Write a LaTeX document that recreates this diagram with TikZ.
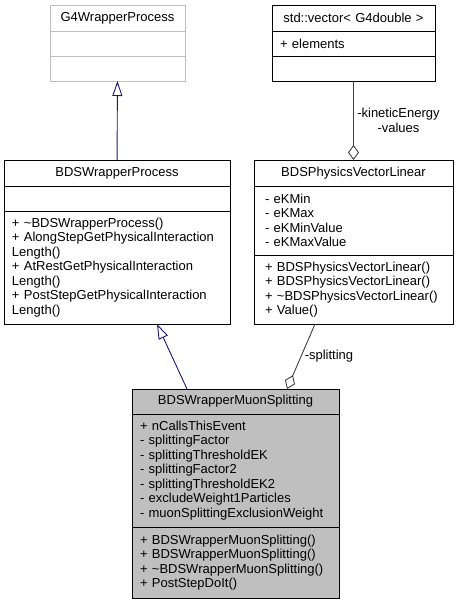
\documentclass[tikz,border=0pt]{standalone}
\usepackage{fontspec}
\setmainfont{Liberation Sans}
\usetikzlibrary{arrows.meta}
\definecolor{edgeblue}{HTML}{191970}
\definecolor{edgegrey}{HTML}{404040}
\definecolor{boxgrey}{HTML}{BFBFBF}

\begin{document}
\begin{tikzpicture}[x=1pt, y=-1pt, cell/.style={draw, rectangle, anchor=north west, inner xsep=8pt, inner ysep=0pt, outer sep=0pt, line width=0.8pt, align=left}, head/.style={cell, align=center}]
\tikzset{every node/.append style={font=\fontsize{13}{14.5}\selectfont},
  inherit/.style={draw=edgeblue, line width=0.9pt, -{Triangle[open, length=15pt, width=10pt]}},
  aggr/.style={draw=edgegrey, line width=0.9pt, -{Diamond[open, length=15pt, width=11pt]}}}
\useasboundingbox (0,0) rectangle (459,603);

\node[head, draw=boxgrey, text width=119pt, minimum height=26pt] (0) at (50,5) {G4WrapperProcess};
\node[cell, draw=boxgrey, text width=119pt, minimum height=25pt] (0a) at (50,31) {};
\node[cell, draw=boxgrey, text width=119pt, minimum height=25pt] (0o) at (50,56) {};

\node[head, text width=147pt, minimum height=26pt] (1) at (272,5) {std::vector< G4double >};
\node[cell, text width=147pt, minimum height=25pt] (1a) at (272,31) {+ elements};
\node[cell, text width=147pt, minimum height=25pt] (1o) at (272,56) {};

\node[head, text width=210pt, minimum height=26pt] (2) at (4,160) {BDSWrapperProcess};
\node[cell, text width=210pt, minimum height=25pt] (2a) at (4,186) {};
\node[cell, text width=210pt, minimum height=113pt] (2o) at (4,211) {+ \textasciitilde BDSWrapperProcess()\\+ AlongStepGetPhysicalInteraction\\Length()\\+ AtRestGetPhysicalInteraction\\Length()\\+ PostStepGetPhysicalInteraction\\Length()};

\node[head, text width=183pt, minimum height=26pt] (3) at (254,160) {BDSPhysicsVectorLinear};
\node[cell, inner xsep=11pt, text width=177pt, minimum height=69pt] (3a) at (254,186) {- eKMin\\- eKMax\\- eKMinValue\\- eKMaxValue};
\node[cell, inner xsep=11pt, text width=177pt, minimum height=69pt] (3o) at (254,255) {+ BDSPhysicsVectorLinear()\\+ BDSPhysicsVectorLinear()\\+ \textasciitilde BDSPhysicsVectorLinear()\\+ Value()};

\node[head, fill=boxgrey, text width=191pt, minimum height=25pt] (4) at (132,389) {BDSWrapperMuonSplitting};
\node[cell, fill=boxgrey, text width=191pt, minimum height=113pt] (4a) at (132,414) {+ nCallsThisEvent\\- splittingFactor\\- splittingThresholdEK\\- splittingFactor2\\- splittingThresholdEK2\\- excludeWeight1Particles\\- muonSplittingExclusionWeight};
\node[cell, fill=boxgrey, text width=191pt, minimum height=71pt] (4o) at (132,527) {+ BDSWrapperMuonSplitting()\\+ BDSWrapperMuonSplitting()\\+ \textasciitilde BDSWrapperMuonSplitting()\\+ PostStepDoIt()};

\path
(2) edge[inherit] (0o)
([xshift=-48.5pt]4.north) edge[inherit] ([xshift=40pt]2o.south)

(1o) edge[aggr] node[right, align=center] {-kineticEnergy\\-values} (3)
([xshift=-38.5pt]3o.south) edge[aggr] node[right] {-splitting} ([xshift=51.5pt]4.north)
;
\end{tikzpicture}
\end{document}
